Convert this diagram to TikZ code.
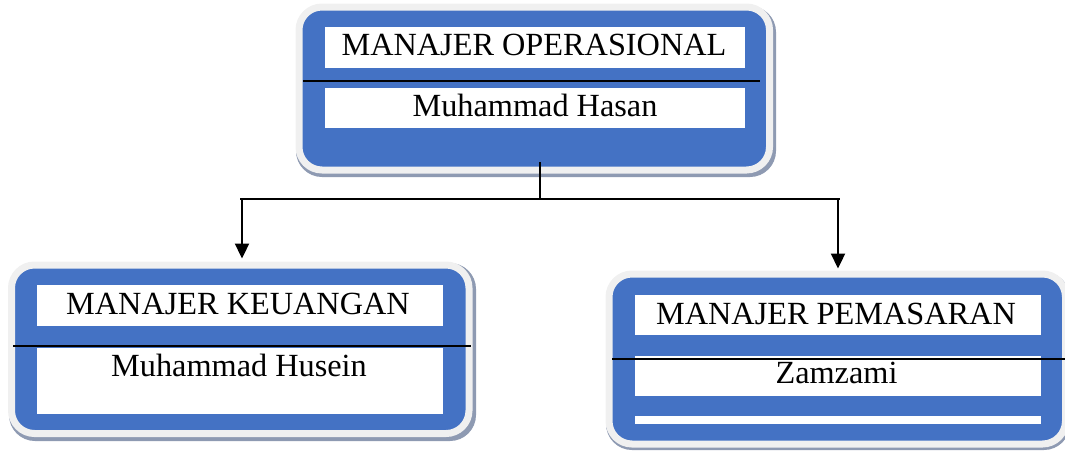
\documentclass[tikz,border=0pt]{standalone}
\usepackage{fontspec}
\setmainfont{Liberation Serif}
\usetikzlibrary{arrows.meta}
\definecolor{bluec}{HTML}{4472C4}
\definecolor{ringc}{HTML}{F0F0F0}
\definecolor{shadowc}{HTML}{8E9AB2}
\tikzset{
  box/.style={draw=ringc, line width=7pt, fill=bluec, rounded corners=23pt, inner sep=0pt},
  shade box/.style={fill=shadowc, rounded corners=26pt},
  strip/.style={fill=white},
  sep line/.style={draw=black, line width=1.7pt},
  lbl/.style={anchor=base, inner sep=0pt, font=\fontsize{32.3}{36}\selectfont},
  conn/.style={draw=black, line width=2.3pt},
  arr/.style={conn, -{Triangle[length=15pt,width=14pt]}}
}
\begin{document}
\begin{tikzpicture}[x=1pt,y=-1pt]
\useasboundingbox (0,0) rectangle (1065,451);
% ---- top box
\fill[shade box] (296,6) rectangle (776,177);
\node[box, minimum width=470.5pt, minimum height=163pt] (top) at (534.25,88.5) {};
\fill[strip] (325,27) rectangle (745,68);
\fill[strip] (325,88) rectangle (745,128);
\draw[sep line] (303,81) -- (760,81);
\node[lbl] (topT) at (534,55) {MANAJER OPERASIONAL};
\node[lbl] (topN) at (535,116.5) {Muhammad Hasan};
% ---- left box
\fill[shade box] (9,263) rectangle (476,441);
\node[box, minimum width=457.5pt, minimum height=168.5pt] (left) at (240.25,349.25) {};
\fill[strip] (37,285) rectangle (443,326);
\fill[strip] (37,348) rectangle (443,414);
\draw[sep line] (13,346) -- (471,346);
\node[lbl] (leftT) at (238,314.3) {MANAJER KEUANGAN};
\node[lbl] (leftN) at (239,376.7) {Muhammad Husein};
% ---- right box
\fill[shade box] (606,272) rectangle (1070,450);
\node[box, minimum width=456.5pt, minimum height=170pt] (right) at (837.25,359) {};
\fill[strip] (635,295) rectangle (1041,335);
\fill[strip] (635,356) rectangle (1041,396);
\fill[strip] (635,416) rectangle (1041,424);
\draw[sep line] (612,359) -- (1065,359);
\node[lbl] (rightT) at (836,324.3) {MANAJER PEMASARAN};
\node[lbl] (rightN) at (836.5,383.3) {Zamzami};
% ---- connectors
\coordinate (ts) at (540,162);
\coordinate (j) at (540,199);
\coordinate (hl) at (242,199);
\coordinate (hr) at (838,199);
\draw[conn, line width=1.8pt] (ts) -- (j);
\draw[conn] ([xshift=-2pt]hl) -- ([xshift=2pt]hr);
\draw[arr] (hl) -- ([yshift=3pt]hl |- left.north);
\draw[arr] (hr) -- ([yshift=2pt]hr |- right.north);
\end{tikzpicture}
\end{document}
